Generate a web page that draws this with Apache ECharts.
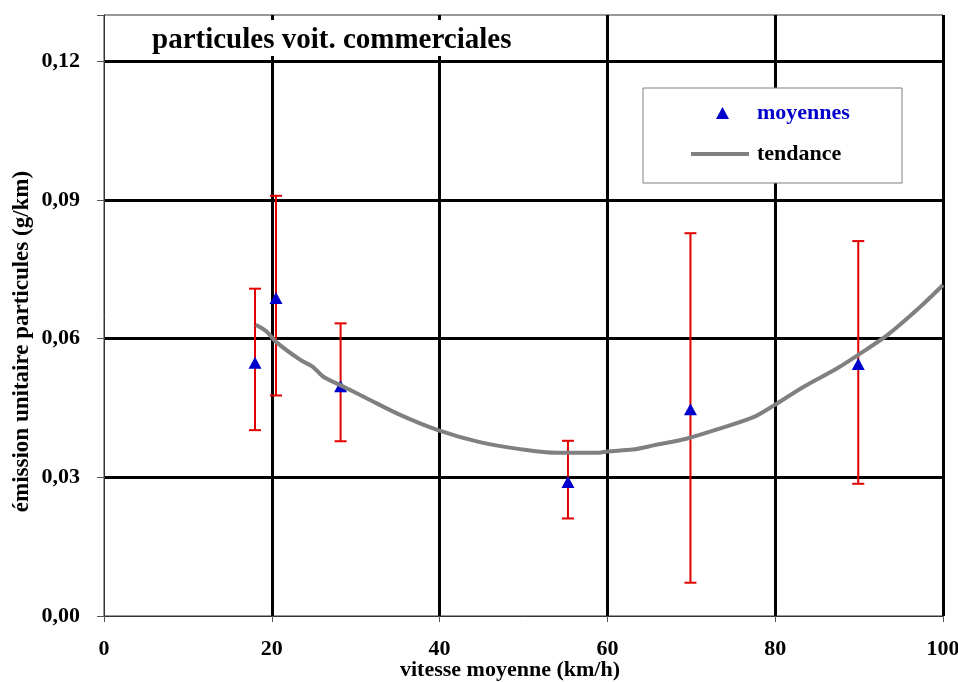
<!DOCTYPE html>
<html>
<head>
<meta charset="utf-8">
<script src="https://cdn.jsdelivr.net/npm/echarts@6/dist/echarts.min.js"></script>
<style>
html, body { margin: 0; padding: 0; background: #fff; }
#chart { width: 958px; height: 682px; }
</style>
</head>
<body>
<div id="chart"></div>
<script>
var FONT = "'Liberation Serif', 'Times New Roman', serif";

// moyennes (km/h, g/km)
var speeds = [18, 20.5, 28.2, 55.3, 69.9, 89.9];
var means = [0.0548, 0.0688, 0.0497, 0.0290, 0.0447, 0.0545];
var errLow = [0.0402, 0.0477, 0.0378, 0.0211, 0.0072, 0.0286];
var errHigh = [0.0708, 0.0909, 0.0633, 0.0379, 0.0828, 0.0811];

// tendance
var trendX = [18.1, 19.4, 20.5, 23.4, 24.9, 26.1, 28.1, 31.3, 35.3, 39.8, 44.8, 49.6, 54, 59, 60, 63, 65.5, 69.5, 73.5, 77.4, 79.8, 83.4, 87.4, 91.4, 93.4, 97.3, 100];
var trendY = [0.0630, 0.0615, 0.0593, 0.0554, 0.0539, 0.0518, 0.0500, 0.0471, 0.0435, 0.0402, 0.0376, 0.0361, 0.0353, 0.0353, 0.0356, 0.0360, 0.0369, 0.0384, 0.0406, 0.0430, 0.0455, 0.0496, 0.0536, 0.0583, 0.0608, 0.0669, 0.0716];

var yTicks = [0, 0.03, 0.06, 0.09, 0.12];

var myChart = echarts.init(document.getElementById('chart'));

function renderErrorBar(params, api) {
	var x = api.value(0);
	var lo = api.coord([x, api.value(1)]);
	var hi = api.coord([x, api.value(2)]);
	var w = 6;
	var style = { stroke: '#e00000', lineWidth: 2 };
	return {
		type: 'group',
		children: [
			{ type: 'line', shape: { x1: lo[0], y1: lo[1], x2: hi[0], y2: hi[1] }, style: style },
			{ type: 'line', shape: { x1: hi[0] - w, y1: hi[1], x2: hi[0] + w, y2: hi[1] }, style: style },
			{ type: 'line', shape: { x1: lo[0] - w, y1: lo[1], x2: lo[0] + w, y2: lo[1] }, style: style }
		]
	};
}

var errData = [];
var meanData = [];
for (var i = 0; i < speeds.length; i++) {
	errData.push([speeds[i], errLow[i], errHigh[i]]);
	meanData.push([speeds[i], means[i]]);
}
var trendData = [];
for (var j = 0; j < trendX.length; j++) {
	trendData.push([trendX[j], trendY[j]]);
}

var option = {
	animation: false,
	backgroundColor: '#fff',
	title: {
		text: 'particules voit. commerciales',
		left: 122,
		top: 20,
		padding: [6, 30, 1, 30],
		backgroundColor: '#fff',
		textStyle: { fontFamily: FONT, fontWeight: 'bold', fontSize: 29, color: '#000' }
	},
	grid: {
		left: 104, right: 15, top: 15, bottom: 66,
		outerBoundsMode: 'none',
		containLabel: false,
		show: true, borderColor: '#333', borderWidth: 1
	},
	graphic: [{
		type: 'rect',
		z: 100,
		shape: { x: 643, y: 88, width: 259, height: 95 },
		style: { fill: '#fff', stroke: '#808080', lineWidth: 1 }
	}],
	legend: [{
		data: [{ name: 'moyennes', icon: 'triangle' }],
		left: 716, top: 102,
		padding: 0,
		itemWidth: 13, itemHeight: 12,
		z: 120,
		textStyle: { fontFamily: FONT, fontWeight: 'bold', fontSize: 22, color: '#0000cc', padding: [0, 0, 0, 23] }
	}, {
		data: [{ name: 'tendance', icon: 'rect' }],
		left: 691, top: 143,
		padding: 0,
		itemWidth: 58, itemHeight: 4,
		z: 120,
		textStyle: { fontFamily: FONT, fontWeight: 'bold', fontSize: 22, color: '#000', padding: [0, 0, 0, 3] }
	}],
	xAxis: {
		type: 'value',
		min: 0, max: 100, interval: 20,
		name: 'vitesse moyenne (km/h)',
		nameLocation: 'middle',
		nameGap: 43,
		nameMoveOverlap: false,
		nameTextStyle: { fontFamily: FONT, fontWeight: 'bold', fontSize: 22, color: '#000', padding: [0, 27, 0, 0] },
		axisLine: { onZero: false, lineStyle: { color: '#333', width: 1 } },
		axisTick: { show: true, length: 6, lineStyle: { color: '#555' } },
		axisLabel: { margin: 22, fontFamily: FONT, fontWeight: 'bold', fontSize: 22, color: '#000' },
		splitLine: { show: true, showMinLine: false, showMaxLine: true, lineStyle: { color: '#000', width: 3 } }
	},
	yAxis: {
		type: 'value',
		min: 0, max: 0.13, interval: 0.03,
		name: 'émission unitaire particules (g/km)',
		nameLocation: 'middle',
		nameGap: 70,
		nameMoveOverlap: false,
		nameTextStyle: { fontFamily: FONT, fontWeight: 'bold', fontSize: 23, color: '#000', padding: [0, 52, 0, 0] },
		axisLine: { show: true, lineStyle: { color: '#333', width: 1 } },
		axisTick: { show: true, length: 7, lineStyle: { color: '#555' } },
		axisLabel: {
			margin: 24, fontFamily: FONT, fontWeight: 'bold', fontSize: 22, color: '#000',
			formatter: function (v) {
				for (var k = 0; k < yTicks.length; k++) {
					if (Math.abs(v - yTicks[k]) < 1e-6) {
						return yTicks[k].toFixed(2).replace('.', ',');
					}
				}
				return '';
			}
		},
		splitLine: { show: true, showMinLine: false, showMaxLine: false, lineStyle: { color: '#000', width: 3 } }
	},
	series: [{
		name: 'erreur',
		type: 'custom',
		renderItem: renderErrorBar,
		encode: { x: 0, y: [1, 2] },
		data: errData,
		z: 3
	}, {
		name: 'moyennes',
		type: 'scatter',
		symbol: 'triangle',
		symbolSize: [13, 12],
		itemStyle: { color: '#0000cc', opacity: 1 },
		data: meanData,
		z: 4
	}, {
		name: 'tendance',
		type: 'line',
		showSymbol: false,
		symbol: 'none',
		smooth: 0.3,
		lineStyle: { color: '#808080', width: 4 },
		itemStyle: { color: '#808080' },
		data: trendData,
		z: 5
	}]
};

myChart.setOption(option);
</script>
</body>
</html>
